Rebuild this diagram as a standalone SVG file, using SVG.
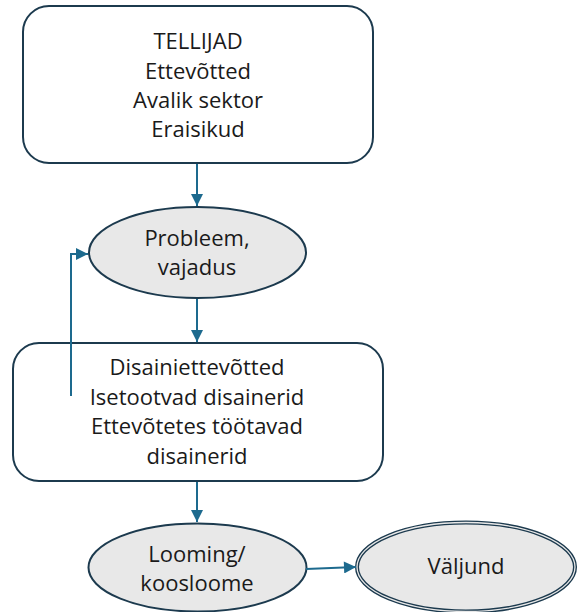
<svg xmlns="http://www.w3.org/2000/svg" width="577" height="612" viewBox="0 0 577 612">
<defs>
<style>
.box{fill:#fff;stroke:#1c3a4e;stroke-width:2}
.ell{fill:#e8e8e8;stroke:#1c3a4e;stroke-width:2}
.t{font-family:"Open Sans","Liberation Sans",Arial,sans-serif;font-size:22px;fill:#1a1a1a;text-anchor:middle}
.c{fill:none;stroke:#1d6a8e;stroke-width:2}
</style>
<marker id="ah2" viewBox="0 0 10 10" refX="10" refY="5" markerWidth="14" markerHeight="12" orient="auto" markerUnits="userSpaceOnUse"><path d="M0,0 L10,5 L0,10 z" fill="#1d6a8e"/></marker>
</defs>
<g id="tellijad">
<rect class="box" x="23" y="6" width="350" height="157" rx="26"/>
<text class="t" x="198" y="49">TELLIJAD</text>
<text class="t" x="198" y="79">Ettevõtted</text>
<text class="t" x="198" y="108">Avalik sektor</text>
<text class="t" x="198" y="137">Eraisikud</text>
</g>
<g id="probleem">
<ellipse class="ell" cx="197.5" cy="252.5" rx="108.5" ry="45.5"/>
<text class="t" x="197" y="246">Probleem,</text>
<text class="t" x="197" y="275">vajadus</text>
</g>
<g id="disainerid">
<rect class="box" x="13" y="343" width="370" height="138" rx="26"/>
<text class="t" x="197" y="375">Disainiettevõtted</text>
<text class="t" x="197" y="405">Isetootvad disainerid</text>
<text class="t" x="197" y="434">Ettevõtetes töötavad</text>
<text class="t" x="197" y="464">disainerid</text>
</g>
<g id="looming">
<ellipse class="ell" cx="197.5" cy="567.5" rx="109" ry="44"/>
<text class="t" x="197" y="562">Looming/</text>
<text class="t" x="197" y="591">koosloome</text>
</g>
<g id="valjund">
<ellipse cx="466" cy="567" rx="109" ry="44.5" fill="#e8e8e8" stroke="#1c3a4e" stroke-width="4"/>
<ellipse cx="466" cy="567" rx="109" ry="44.5" fill="none" stroke="#e8e8e8" stroke-width="1.3"/>
<text class="t" x="466" y="574">Väljund</text>
</g>
<g id="connectors">
<path class="c" d="M197,164 V206" marker-end="url(#ah2)"/>
<path class="c" d="M197,299 V342" marker-end="url(#ah2)"/>
<path class="c" d="M71,396 V254 H88" marker-end="url(#ah2)"/>
<path class="c" d="M197,482 V522" marker-end="url(#ah2)"/>
<path class="c" d="M306,569 L356,567" marker-end="url(#ah2)"/>
</g>
</svg>
